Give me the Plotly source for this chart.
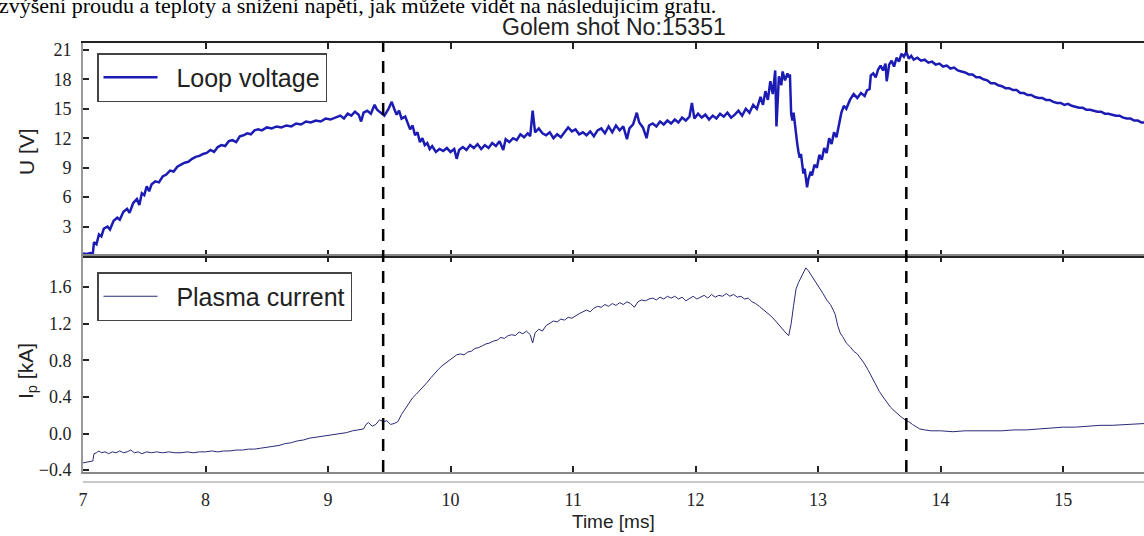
import plotly.graph_objects as go
from plotly.subplots import make_subplots

# ---------------- data ----------------
page_text = "zvýšení proudu a teploty a snížení napětí, jak můžete vidět na následujícím grafu."
title_text = "Golem shot No:15351"

t_voltage = [
    7.00, 7.03, 7.06, 7.08, 7.09, 7.11, 7.13, 7.15, 7.17, 7.20, 7.22, 7.25, 7.28, 7.30, 7.33, 7.36,
    7.38, 7.41, 7.44, 7.46, 7.48, 7.50, 7.52, 7.54, 7.56, 7.59, 7.62, 7.65, 7.68, 7.71, 7.74, 7.77,
    7.80, 7.83, 7.86, 7.89, 7.92, 7.95, 7.98, 8.01, 8.04, 8.07, 8.10, 8.13, 8.16, 8.19, 8.22, 8.25,
    8.28, 8.31, 8.34, 8.37, 8.40, 8.43, 8.46, 8.50, 8.54, 8.58, 8.62, 8.66, 8.70, 8.74, 8.78, 8.82,
    8.86, 8.90, 8.94, 8.98, 9.02, 9.06, 9.10, 9.13, 9.16, 9.19, 9.22, 9.25, 9.27, 9.29, 9.32, 9.35,
    9.38, 9.40, 9.43, 9.46, 9.49, 9.52, 9.54, 9.56, 9.58, 9.60, 9.63, 9.65, 9.67, 9.69, 9.71, 9.73,
    9.75, 9.77, 9.79, 9.81, 9.83, 9.85, 9.88, 9.91, 9.94, 9.97, 10.00, 10.03, 10.05, 10.07, 10.10,
    10.13, 10.16, 10.19, 10.22, 10.25, 10.28, 10.31, 10.34, 10.37, 10.40, 10.43, 10.45, 10.48, 10.51,
    10.54, 10.57, 10.60, 10.63, 10.65, 10.67, 10.69, 10.72, 10.75, 10.78, 10.81, 10.84, 10.87, 10.90,
    10.93, 10.96, 10.99, 11.02, 11.05, 11.08, 11.11, 11.14, 11.17, 11.20, 11.23, 11.26, 11.29, 11.32,
    11.35, 11.38, 11.41, 11.44, 11.46, 11.49, 11.52, 11.54, 11.57, 11.60, 11.62, 11.65, 11.68, 11.71,
    11.74, 11.77, 11.80, 11.83, 11.86, 11.89, 11.92, 11.95, 11.97, 11.99, 12.02, 12.05, 12.08, 12.11,
    12.14, 12.17, 12.20, 12.23, 12.26, 12.29, 12.32, 12.35, 12.38, 12.41, 12.44, 12.47, 12.50, 12.53,
    12.55, 12.57, 12.59, 12.61, 12.63, 12.65, 12.66, 12.68, 12.70, 12.71, 12.73, 12.75, 12.76, 12.77,
    12.78, 12.79, 12.80, 12.81, 12.82, 12.83, 12.84, 12.85, 12.86, 12.87, 12.88, 12.89, 12.90, 12.91,
    12.92, 12.94, 12.95, 12.97, 12.99, 13.01, 13.03, 13.05, 13.07, 13.09, 13.11, 13.13, 13.15, 13.17,
    13.19, 13.21, 13.23, 13.26, 13.29, 13.32, 13.35, 13.38, 13.40, 13.42, 13.43, 13.45, 13.47, 13.49,
    13.51, 13.53, 13.55, 13.56, 13.58, 13.60, 13.62, 13.64, 13.66, 13.68, 13.70, 13.72, 13.74, 13.76,
    13.78, 13.81, 13.84, 13.87, 13.90, 13.93, 13.96, 13.99, 14.02, 14.05, 14.08, 14.11, 14.14, 14.17,
    14.20, 14.23, 14.26, 14.29, 14.32, 14.35, 14.38, 14.41, 14.44, 14.47, 14.50, 14.53, 14.56, 14.59,
    14.62, 14.65, 14.68, 14.71, 14.74, 14.77, 14.80, 14.83, 14.86, 14.89, 14.92, 14.95, 14.98, 15.01,
    15.04, 15.07, 15.10, 15.13, 15.16, 15.19, 15.22, 15.25, 15.28, 15.31, 15.34, 15.37, 15.40, 15.43,
    15.46, 15.49, 15.52, 15.55, 15.58, 15.61, 15.64, 15.67,
]
loop_voltage = [
    0.25, 0.2, 0.3, 0.25, 1.4, 1.2, 2.2, 2.0, 2.8, 3.0, 2.7, 3.6, 3.9, 3.7, 4.5, 4.8,
    4.4, 5.4, 5.8, 5.2, 6.4, 6.2, 7.1, 6.6, 7.3, 7.6, 7.5, 8.1, 8.3, 8.7, 8.6, 9.1,
    9.3, 9.5, 9.6, 9.9, 10.1, 10.2, 10.4, 10.5, 10.8, 10.6, 11.1, 11.3, 11.2, 11.7, 11.8, 11.6,
    12.2, 12.3, 12.5, 12.4, 12.8, 12.9, 12.8, 13.1, 13.0, 13.2, 13.1, 13.3, 13.2, 13.5, 13.4, 13.7,
    13.6, 13.8, 13.7, 14.0, 13.9, 14.1, 14.3, 14.0, 14.5, 14.3, 14.7, 14.4, 13.7, 14.6, 14.8, 14.5,
    15.4, 14.9, 14.6, 14.3, 14.9, 15.7, 15.0, 14.4, 14.8, 14.0, 14.2, 13.5, 12.9, 13.3, 12.3, 12.6,
    11.6, 12.0, 11.3, 11.5, 10.9, 11.2, 10.6, 10.9, 10.7, 11.0, 10.6, 10.9, 9.9, 10.8, 11.1,
    10.8, 11.3, 11.0, 11.4, 10.9, 11.3, 11.0, 11.5, 11.2, 11.7, 10.8, 11.9, 11.6, 12.0,
    11.8, 12.4, 12.1, 12.5, 12.2, 14.8, 12.6, 13.0, 12.5, 12.3, 12.6, 12.0, 12.4, 12.1,
    12.6, 13.1, 12.7, 12.9, 12.4, 12.6, 12.3, 12.7, 12.2, 12.8, 13.0, 12.5, 13.2, 12.6,
    13.3, 12.8, 13.2, 11.9, 13.0, 13.4, 14.6, 13.6, 13.1, 12.0, 13.3, 13.5, 13.2, 13.7,
    13.4, 13.8, 13.5, 13.9, 13.6, 14.1, 13.8, 14.2, 15.6, 14.0, 14.5, 14.1, 14.4, 13.9,
    14.3, 14.0, 14.5, 14.2, 14.6, 14.1, 14.4, 14.8, 14.3, 15.0, 14.6, 15.4, 15.0, 16.2,
    15.4, 16.8, 15.9, 17.8, 16.5, 18.9, 13.2, 18.3, 17.4, 18.8, 17.9, 18.6, 18.2, 18.5,
    14.5, 13.8, 14.6, 13.4, 12.0, 11.4, 10.6, 10.0, 10.4, 9.1, 8.4, 8.9, 7.6, 7.0,
    7.8, 8.6, 8.2, 9.3, 9.0, 10.3, 9.8, 11.0, 10.5, 12.0, 11.4, 12.6, 12.1, 13.5,
    14.6, 15.3, 15.0, 15.9, 16.5, 16.1, 16.6, 16.3, 16.9, 17.0, 18.4, 18.6, 18.2, 19.0,
    19.4, 18.9, 19.6, 17.8, 19.5, 19.9, 19.3, 20.2, 19.8, 20.6, 20.3, 20.8, 20.1, 20.4,
    20.0, 20.2, 19.9, 20.0, 19.7, 19.8, 19.5, 19.6, 19.3, 19.4, 19.1, 19.2, 18.9, 18.8,
    18.7, 18.5, 18.5, 18.2, 18.2, 18.0, 17.9, 17.6, 17.6, 17.4, 17.3, 17.1, 17.1, 16.9,
    16.9, 16.6, 16.6, 16.4, 16.4, 16.2, 16.1, 16.1, 15.9, 15.9, 15.7, 15.6, 15.6, 15.4,
    15.5, 15.3, 15.2, 15.1, 15.1, 14.9, 14.9, 14.8, 14.7, 14.7, 14.5, 14.5, 14.4, 14.3,
    14.3, 14.1, 14.0, 14.0, 13.8, 13.8, 13.6, 13.6,
]

t_current = [
    7.00, 7.05, 7.08, 7.09, 7.11, 7.13, 7.15, 7.18, 7.21, 7.24, 7.27, 7.30, 7.33, 7.36, 7.39, 7.42,
    7.45, 7.48, 7.52, 7.56, 7.60, 7.65, 7.70, 7.75, 7.80, 7.85, 7.90, 7.95, 8.00, 8.05, 8.10, 8.15,
    8.20, 8.25, 8.30, 8.35, 8.40, 8.45, 8.50, 8.55, 8.60, 8.65, 8.70, 8.75, 8.80, 8.85, 8.90, 8.95,
    9.00, 9.05, 9.10, 9.15, 9.20, 9.25, 9.29, 9.31, 9.33, 9.36, 9.39, 9.42, 9.45, 9.48, 9.51, 9.54,
    9.57, 9.60, 9.63, 9.66, 9.69, 9.72, 9.75, 9.78, 9.81, 9.84, 9.87, 9.90, 9.93, 9.96, 9.99, 10.02,
    10.05, 10.08, 10.11, 10.14, 10.17, 10.20, 10.23, 10.26, 10.29, 10.32, 10.35, 10.38, 10.41, 10.44,
    10.47, 10.50, 10.53, 10.56, 10.59, 10.62, 10.65, 10.67, 10.69, 10.72, 10.75, 10.78, 10.81, 10.84,
    10.87, 10.90, 10.93, 10.96, 10.99, 11.02, 11.05, 11.08, 11.11, 11.14, 11.17, 11.20, 11.23, 11.26,
    11.29, 11.32, 11.35, 11.38, 11.41, 11.44, 11.47, 11.50, 11.53, 11.56, 11.59, 11.62, 11.65, 11.68,
    11.71, 11.74, 11.77, 11.80, 11.83, 11.86, 11.89, 11.92, 11.95, 11.98, 12.01, 12.04, 12.07, 12.10,
    12.13, 12.16, 12.19, 12.22, 12.25, 12.28, 12.31, 12.34, 12.37, 12.40, 12.43, 12.46, 12.49, 12.52,
    12.55, 12.58, 12.61, 12.64, 12.67, 12.70, 12.73, 12.76, 12.78, 12.80, 12.82, 12.84, 12.86, 12.88,
    12.90, 12.92, 12.94, 12.96, 12.98, 13.01, 13.04, 13.07, 13.10, 13.12, 13.14, 13.16, 13.18, 13.20,
    13.23, 13.26, 13.29, 13.32, 13.35, 13.38, 13.41, 13.44, 13.47, 13.50, 13.53, 13.56, 13.59, 13.62,
    13.65, 13.68, 13.71, 13.74, 13.77, 13.80, 13.83, 13.87, 13.92, 14.00, 14.10, 14.20, 14.30, 14.40,
    14.50, 14.60, 14.70, 14.80, 14.90, 15.00, 15.10, 15.20, 15.30, 15.40, 15.50, 15.60, 15.67,
]
plasma_current = [
    -0.32, -0.31, -0.30, -0.22, -0.21, -0.19, -0.21, -0.20, -0.22, -0.20, -0.21, -0.19, -0.21, -0.20, -0.18, -0.21,
    -0.20, -0.22, -0.20, -0.21, -0.20, -0.21, -0.20, -0.21, -0.21, -0.20, -0.21, -0.20, -0.20, -0.19, -0.20, -0.19,
    -0.19, -0.18, -0.18, -0.17, -0.17, -0.16, -0.15, -0.14, -0.13, -0.11, -0.10, -0.08, -0.07, -0.05, -0.04, -0.03,
    -0.02, -0.01, 0.00, 0.01, 0.03, 0.04, 0.05, 0.10, 0.12, 0.08, 0.10, 0.15, 0.13, 0.14, 0.10, 0.11,
    0.13, 0.21, 0.27, 0.33, 0.39, 0.43, 0.47, 0.51, 0.56, 0.61, 0.66, 0.70, 0.74, 0.77, 0.81, 0.83,
    0.86, 0.87, 0.86, 0.89, 0.90, 0.93, 0.94, 0.96, 0.98, 0.99, 1.01, 1.02, 1.05, 1.04,
    1.07, 1.08, 1.07, 1.11, 1.09, 1.12, 1.08, 0.99, 1.10, 1.14, 1.12, 1.18, 1.21, 1.23,
    1.22, 1.25, 1.24, 1.27, 1.26, 1.29, 1.31, 1.33, 1.35, 1.33, 1.37, 1.39, 1.38, 1.41,
    1.39, 1.42, 1.40, 1.43, 1.41, 1.44, 1.42, 1.38, 1.44, 1.46, 1.45, 1.47, 1.48, 1.46,
    1.49, 1.47, 1.50, 1.48, 1.50, 1.47, 1.49, 1.45, 1.48, 1.50, 1.47, 1.49, 1.51, 1.48,
    1.52, 1.49, 1.51, 1.50, 1.53, 1.50, 1.52, 1.49, 1.50, 1.47, 1.48, 1.44, 1.42, 1.39,
    1.36, 1.33, 1.29, 1.25, 1.20, 1.16, 1.11, 1.07, 1.20, 1.40, 1.58, 1.65, 1.70, 1.76,
    1.81, 1.78, 1.74, 1.70, 1.66, 1.60, 1.53, 1.46, 1.41, 1.36, 1.30, 1.18, 1.10, 1.06,
    0.99, 0.95, 0.90, 0.87, 0.82, 0.76, 0.69, 0.61, 0.53, 0.46, 0.40, 0.34, 0.29, 0.25,
    0.21, 0.18, 0.15, 0.13, 0.10, 0.07, 0.05, 0.04, 0.03, 0.03, 0.02, 0.03, 0.03, 0.03,
    0.03, 0.04, 0.04, 0.05, 0.06, 0.07, 0.07, 0.08, 0.09, 0.09, 0.10, 0.11, 0.11,
]

marker_times = [9.45, 13.72]          # dashed vertical markers [ms]
x_ticks = [7, 8, 9, 10, 11, 12, 13, 14, 15]
u_ticks = [3, 6, 9, 12, 15, 18, 21]
i_ticks = [-0.4, 0.0, 0.4, 0.8, 1.2, 1.6]
x_range = [7.0, 15.66]
u_range = [0.0, 21.7]
i_range = [-0.42, 1.94]

# ---------------- figure ----------------
fig = make_subplots(rows=2, cols=1, shared_xaxes=True, vertical_spacing=0,
                    row_heights=[0.4965, 0.5035])

NBSP = "\u00a0"
fig.add_trace(go.Scatter(x=t_voltage, y=loop_voltage, mode="lines", name=NBSP * 2 + "Loop voltage",
                         line=dict(color="#1c1cb4", width=2.5), legend="legend"), row=1, col=1)
fig.add_trace(go.Scatter(x=t_current, y=plasma_current, mode="lines", name=NBSP * 2 + "Plasma current",
                         line=dict(color="#2a2a78", width=1), legend="legend2"), row=2, col=1)

for t in marker_times:
    fig.add_shape(type="line", xref="x2", yref="paper", x0=t, x1=t, y0=0, y1=1,
                  line=dict(color="black", width=2.5, dash="12px,9px"), layer="above")

tick_font = dict(family="Liberation Serif", size=18, color="#222")
common_x = dict(range=x_range, tickvals=x_ticks, ticks="inside", ticklen=6, tickwidth=1.5,
                tickcolor="#222", showline=True, mirror="ticks", showgrid=False, zeroline=False)
fig.update_xaxes(**common_x, linecolor="#222", linewidth=2, showticklabels=False, row=1, col=1)
fig.update_xaxes(**common_x, linecolor="#888", linewidth=2, showticklabels=True,
                 tickfont=tick_font, ticklabelstandoff=10, row=2, col=1)

common_y = dict(ticks="inside", ticklen=6, tickwidth=1.5, tickcolor="#222", showline=True,
                linecolor="#999", linewidth=2, showgrid=False, zeroline=False,
                tickfont=tick_font, ticklabelstandoff=6)
fig.update_yaxes(**common_y, range=u_range, tickvals=u_ticks, row=1, col=1)
fig.update_yaxes(**common_y, range=i_range, tickvals=i_ticks, tickformat=".1f", row=2, col=1)

H_PLOT = 429.0
def py(p):  # pixel row -> paper y
    return 1 + (43 - p) / H_PLOT
def px(p):  # pixel column -> paper x
    return (p - 83) / 1061.0

legend_style = dict(xanchor="left", yanchor="top", bgcolor="white", bordercolor="#444",
                    borderwidth=1.5, font=dict(family="Liberation Sans", size=25, color="#222"),
                    itemwidth=54)
fig.update_layout(
    width=1144, height=536,
    margin=dict(l=83, r=0, t=43, b=64),
    plot_bgcolor="white", paper_bgcolor="white",
    showlegend=True,
    legend=dict(x=px(97), y=py(53), **legend_style),
    legend2=dict(x=px(97), y=py(272), **legend_style),
)

ann_font = dict(family="Liberation Sans", color="#222")
fig.add_annotation(text=title_text, xref="paper", yref="paper", x=0.5, y=py(27),
                   xanchor="center", yanchor="middle", showarrow=False,
                   font=dict(size=23, **ann_font))
fig.add_annotation(text="Time [ms]", xref="paper", yref="paper", x=0.5, y=py(521),
                   xanchor="center", yanchor="middle", showarrow=False,
                   font=dict(size=19, **ann_font))
fig.add_annotation(text="U [V]", xref="paper", yref="paper", x=px(27), y=py(152),
                   xanchor="center", yanchor="middle", showarrow=False, textangle=-90,
                   font=dict(size=21, **ann_font))
fig.add_annotation(text="I<sub>p</sub> [kA]", xref="paper", yref="paper", x=px(27), y=py(371),
                   xanchor="center", yanchor="middle", showarrow=False, textangle=-90,
                   font=dict(size=21, **ann_font))
fig.add_annotation(text=page_text, xref="paper", yref="paper", x=px(-3), y=py(20),
                   xanchor="left", yanchor="bottom", showarrow=False,
                   font=dict(family="Liberation Serif", size=22, color="black"))

# faint second rule below the lower axis, as in the picture
fig.add_shape(type="line", xref="paper", yref="paper", x0=0, x1=1, y0=py(482), y1=py(482),
              line=dict(color="#c8c8c8", width=2))

# the page's default 8px body margin would shift the whole picture; remove it
fig.write_html("out.html", config={"displayModeBar": False},
               post_script="document.body.style.margin='0';")
